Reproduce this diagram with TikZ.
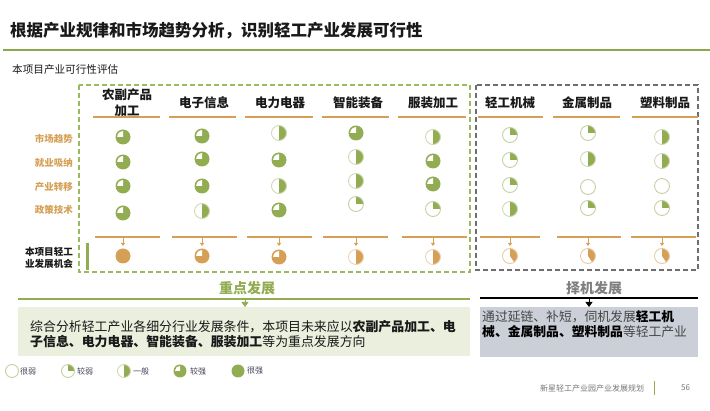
\documentclass[tikz,border=0pt]{standalone}
\usepackage{fontspec}
\setmainfont{Noto Sans CJK SC}
\usetikzlibrary{arrows.meta}
\definecolor{G}{RGB}{146,172,82}
\definecolor{GL}{RGB}{140,168,78}
\definecolor{GD}{RGB}{155,185,95}
\definecolor{O}{RGB}{213,160,86}
\definecolor{GRY}{RGB}{110,110,110}
\definecolor{GBOX}{RGB}{234,239,222}
\definecolor{SBOX}{RGB}{203,207,215}
\definecolor{TXT}{RGB}{25,25,25}
\newcommand{\hb}[5][7.5pt]{%
  \begin{scope}[shift={(#2,-#3)}]
  \ifcase#4
    \draw[#5!55, line width=0.9] (0,0) circle (#1);
  \or
    \fill[#5] (0,0) -- (90:#1) arc[start angle=90,end angle=0,radius=#1] -- cycle;
    \draw[#5!55, line width=0.9] (0,0) circle (#1);
  \or
    \fill[#5] (0,0) -- (90:#1) arc[start angle=90,end angle=-90,radius=#1] -- cycle;
    \draw[#5!45, line width=0.9] (0,0) circle (#1);
  \or
    \fill[#5] (0,0) circle (#1);
    \fill[white] (0,0) -- (90:{0.78*#1}) arc[start angle=90,end angle=180,radius=0.78*#1] -- cycle;
  \or
    \fill[#5] (0,0) circle (#1);
  \or
    \fill[#5] (0,0) -- (90:#1) arc[start angle=90,end angle=-56,radius=#1] -- cycle;
    \draw[#5!55, line width=0.9] (0,0) circle (#1);
  \fi
  \end{scope}}
\begin{document}
\begin{tikzpicture}[x=1pt,y=1pt,
  hdr/.style={font=\fontsize{12.5}{16}\selectfont\bfseries, align=center, text=TXT, inner sep=0},
  rowlab/.style={font=\fontsize{9.5}{11}\selectfont\bfseries, text=O, anchor=east, inner sep=0},
  oline/.style={draw=O, line width=1.3},
  oarrow/.style={draw=O, line width=0.8, -{Triangle[width=4pt,length=3pt]}},
  legtxt/.style={font=\fontsize{8}{9}\selectfont, text={rgb,255:red,70;green,70;blue,90}, anchor=west, inner sep=0}]
\useasboundingbox (0,0) rectangle (710,-411);
% title
\node[anchor=west, inner sep=0, font=\fontsize{16.5}{20}\selectfont\bfseries, text=TXT] (title) at (10,-31) {根据产业规律和市场趋势分析，识别轻工产业发展可行性};
\draw[GL, line width=1.5] (3,-50) -- (710,-50);
\node[anchor=west, inner sep=0, font=\fontsize{10.6}{12}\selectfont, text=TXT] (sub) at (12,-70) {本项目产业可行性评估};
% dashed boxes
\draw[GD, line width=1.3, dash pattern=on 5pt off 3pt] (79,-85) rectangle (470,-272);
\draw[GRY, line width=1.3, dash pattern=on 5pt off 3pt] (476,-85) rectangle (698,-270);
% headers
\node[hdr] (h1) at (127,-103) {农副产品\\加工};
\node[hdr] (h2) at (204,-103) {电子信息};
\node[hdr] (h3) at (280,-103) {电力电器};
\node[hdr] (h4) at (358,-103) {智能装备};
\node[hdr] (h5) at (433,-103) {服装加工};
\node[hdr] (h6) at (510,-103) {轻工机械};
\node[hdr] (h7) at (587,-103) {金属制品};
\node[hdr] (h8) at (665,-103) {塑料制品};
\foreach \a/\b in {93/160,169/236,245/313,322/389,398/466,478/543,553/620,632/698}
  \draw[oline] (\a,-117) -- (\b,-117);
% row labels
\node[rowlab] (r1) at (73,-139) {市场趋势};
\node[rowlab] (r2) at (73,-163) {就业吸纳};
\node[rowlab] (r3) at (73,-187) {产业转移};
\node[rowlab] (r4) at (73,-210) {政策技术};
\node[font=\fontsize{9.6}{11.5}\selectfont\bfseries, text=TXT, align=center, inner sep=0] (opp) at (49,-258) {本项目轻工\\业发展机会};
\draw[G, line width=3] (87,-243) -- (87,-270);
% balls
\hb{123}{137}{3}{G}\hb{123}{162}{3}{G}\hb{123}{186}{3}{G}\hb{123}{213}{3}{G}
\hb{202}{136}{3}{G}\hb{202}{159}{3}{G}\hb{202}{186}{3}{G}\hb{202}{211}{2}{G}
\hb{279}{133}{2}{G}\hb{279}{160}{3}{G}\hb{279}{186}{2}{G}\hb{279}{210}{3}{G}
\hb{356}{133}{3}{G}\hb{356}{157}{2}{G}\hb{356}{181}{2}{G}\hb{356}{204}{1}{G}
\hb{433}{137}{2}{G}\hb{433}{161}{3}{G}\hb{433}{184}{3}{G}\hb{433}{209}{1}{G}
\hb{510}{135}{1}{G}\hb{510}{160}{1}{G}\hb{510}{185}{1}{G}\hb{510}{209}{2}{G}
\hb{588}{133}{1}{G}\hb{588}{159}{2}{G}\hb{588}{187}{0}{G}\hb{588}{208}{1}{G}
\hb{662}{137}{2}{G}\hb{662}{161}{2}{G}\hb{662}{186}{0}{G}\hb{662}{208}{1}{G}
% result lines and arrows
\foreach \a/\b/\c in {95/160/123,172/237/202,247/312/279,323/388/356,402/467/433,480/540/510,557/621/588,631/696/662}{
  \draw[oline] (\a,-237) -- (\b,-237);
  \coordinate (t\c) at (\c,-237);
  \coordinate (e\c) at (\c,-246);
  \draw[oarrow] (t\c) -- (e\c);
}
\hb{123}{256}{4}{O}\hb{202}{256}{3}{O}\hb{279}{257}{3}{O}\hb{356}{257}{2}{O}\hb{433}{257}{2}{O}
\hb{510}{256}{5}{O}\hb{588}{256}{5}{O}\hb{662}{256}{5}{O}
% bottom green section
\node[font=\fontsize{14}{16}\selectfont\bfseries, text=G, inner sep=0] (zd) at (247,-288) {重点发展};
\draw[G, line width=1.3] (18,-299) -- (470,-299);
\node[fill=GBOX, draw=none, minimum width=452pt, minimum height=49pt, anchor=north west, inner sep=0] (gbox) at (18,-307) {};
\coordinate (ga) at (245,-299);
\draw[G, line width=0.8, -{Triangle[width=7pt,length=5pt]}] (ga) -- (gbox.north -| ga);
\node[anchor=west, align=left, inner sep=0, font=\fontsize{12.9}{14.5}\selectfont, text=TXT] (gtext) at (30,-334) {综合分析轻工产业各细分行业发展条件，本项目未来应以\textbf{农副产品加工、电}\\\textbf{子信息、电力电器、智能装备、服装加工}等为重点发展方向};
% bottom grey section
\node[font=\fontsize{14}{16}\selectfont\bfseries, text={rgb,255:red,128;green,128;blue,128}, inner sep=0] (zj) at (594,-288) {择机发展};
\draw[black, line width=1.1] (480,-298) -- (698,-298);
\node[fill=SBOX, draw=none, minimum width=218pt, minimum height=50pt, anchor=north west, inner sep=0] (sbox) at (480,-307) {};
\coordinate (sa) at (589,-298);
\draw[black, line width=0.8, -{Triangle[width=7pt,length=5pt]}] (sa) -- (sbox.north -| sa);
\node[anchor=west, align=left, inner sep=0, font=\fontsize{12.8}{15}\selectfont, text={rgb,255:red,70;green,70;blue,70}] (stext) at (482,-324.5) {通过延链、补短，伺机发展\textcolor{black}{\textbf{轻工机}}\\\textcolor{black}{\textbf{械、金属制品、塑料制品}}等轻工产业};
% legend
\hb[6.5pt]{12}{371}{0}{G}\node[legtxt] (l0) at (20,-371) {很弱};
\hb[6.5pt]{68}{371}{1}{G}\node[legtxt] (l1) at (77,-371) {较弱};
\hb[6.5pt]{124}{371}{2}{G}\node[legtxt] (l2) at (133,-371) {一般};
\hb[6.5pt]{180}{371}{3}{G}\node[legtxt] (l3) at (190,-371) {较强};
\hb[6.5pt]{238}{371}{4}{G}\node[legtxt] (l4) at (247,-371) {很强};
% footer
\node[anchor=west, inner sep=0, font=\fontsize{8}{9}\selectfont, text={rgb,255:red,120;green,120;blue,120}] (foot) at (540,-388) {新星轻工产业园产业发展规划};
\draw[G, line width=1] (654,-381) -- (654,-395);
\node[anchor=west, inner sep=0, font=\fontsize{8}{9}\selectfont, text={rgb,255:red,120;green,120;blue,120}] (pg) at (681,-388) {56};
\end{tikzpicture}
\end{document}
